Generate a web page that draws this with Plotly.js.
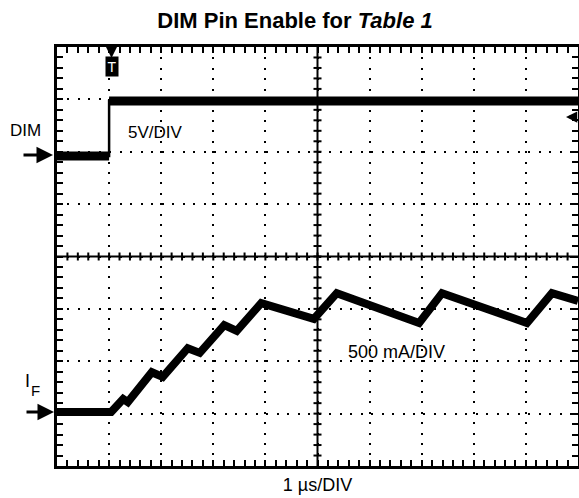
<!DOCTYPE html>
<html><head><meta charset="utf-8">
<script src="https://cdn.plot.ly/plotly-3.0.1.min.js"></script>
<style>html,body{margin:0;padding:0;background:#fff}#chart{width:579px;height:498px}</style>
</head><body><div id="chart"></div>
<script>
// Horizontal: time in divisions (1 µs/DIV); vertical: screen divisions
var dimTime  = [0, 1.0, 1.0, 10];
var dimLevel = [1.92, 1.92, 2.97, 2.97];
var ifTime  = [0, 1.04, 1.27, 1.36, 1.82, 2.03, 2.51, 2.74, 3.21, 3.45, 3.92, 4.93, 5.37, 6.95, 7.39, 9.02, 9.50, 10.0];
var ifLevel = [-2.97, -2.97, -2.72, -2.78, -2.21, -2.30, -1.75, -1.84, -1.31, -1.42, -0.89, -1.19, -0.70, -1.27, -0.70, -1.27, -0.70, -0.85];
var titleText = '<b>DIM Pin Enable for <i>Table 1</i></b>';
var xTitle = '1 µs/DIV';

var W = 579, H = 498, L = 57, R = 1, T = 47, B = 32;
var pw = W - L - R, ph = H - T - B;
var font = 'Liberation Sans, Arial, sans-serif';

// thick noisy band only on the flat segments of the DIM trace
var dimBandX = [], dimBandY = [];
for (var i = 0; i < dimTime.length - 1; i++) {
  if (dimLevel[i] === dimLevel[i + 1]) {
    dimBandX.push(dimTime[i], dimTime[i + 1], null);
    dimBandY.push(dimLevel[i], dimLevel[i + 1], null);
  }
}

var traces = [
  {x: dimTime, y: dimLevel, mode: 'lines', line: {color: '#000', width: 2.5}, hoverinfo: 'skip', showlegend: false},
  {x: dimBandX, y: dimBandY, mode: 'lines', line: {color: '#000', width: 9}, connectgaps: false, hoverinfo: 'skip', showlegend: false},
  {x: ifTime, y: ifLevel, mode: 'lines', line: {color: '#000', width: 8}, hoverinfo: 'skip', showlegend: false}
];

// graticule: centre cross with small ticks every 0.2 division
var ux = 10 / pw, uy = 8 / ph;
var tc = 4;
var shapes = [
  {type: 'line', xref: 'x', yref: 'y', x0: 5, x1: 5, y0: -4, y1: 4, line: {color: '#000', width: 2}},
  {type: 'line', xref: 'x', yref: 'y', x0: 0, x1: 10, y0: 0, y1: 0, line: {color: '#000', width: 2}}
];
function seg(x0, y0, x1, y1) {
  shapes.push({type: 'line', xref: 'x', yref: 'y', x0: x0, y0: y0, x1: x1, y1: y1, line: {color: '#000', width: 2}});
}
for (var k = 1; k < 50; k++) {
  var x = Math.round(k * 2) / 10;
  seg(x, -tc * uy, x, tc * uy);
}
for (var j = 1; j < 40; j++) {
  var y = Math.round(-40 + j * 2) / 10;
  seg(5 - tc * ux, y, 5 + tc * ux, y);
}

function px(v) { return (v - L) / pw; }
function py(v) { return (H - B - v) / ph; }
function txt(t, x, y, size, extra) {
  var a = {text: t, x: px(x), y: py(y), xref: 'paper', yref: 'paper', showarrow: false,
    xanchor: 'center', yanchor: 'middle', font: {family: font, size: size, color: '#000'}};
  for (var key in extra) a[key] = extra[key];
  return a;
}
function arrow(x, y, ax, ay, w, s) {
  return {text: '', x: px(x), y: py(y), xref: 'paper', yref: 'paper', showarrow: true,
    ax: ax, ay: ay, arrowhead: 2, arrowwidth: w, arrowsize: s, arrowcolor: '#000'};
}

var layout = {
  width: W, height: H,
  margin: {l: L, r: R, t: T, b: B, pad: 0},
  paper_bgcolor: '#fff', plot_bgcolor: '#fff',
  title: {text: titleText, x: 295 / W, xanchor: 'center', xref: 'container', y: 1 - 20 / H, yanchor: 'middle', yref: 'container',
    font: {family: font, size: 22, color: '#000'}},
  xaxis: {range: [0, 10], tick0: 0, dtick: 1, showgrid: true, gridcolor: '#000', gridwidth: 2,
    griddash: '2px,' + (pw / 50 - 2).toFixed(2) + 'px', showline: true, mirror: 'ticks', linewidth: 3, linecolor: '#000',
    ticks: 'inside', ticklen: 6, tickcolor: '#000', tickwidth: 2,
    minor: {dtick: 0.2, tick0: 0, ticks: 'inside', ticklen: 6, tickcolor: '#000', tickwidth: 2, showgrid: false},
    showticklabels: false, zeroline: false, fixedrange: true,
    title: {text: xTitle, font: {family: font, size: 18, color: '#000'}, standoff: 11}},
  yaxis: {range: [-4, 4], tick0: -4, dtick: 1, showgrid: true, gridcolor: '#000', gridwidth: 2,
    griddash: '2px,' + (ph / 40 - 2).toFixed(2) + 'px', showline: true, mirror: 'ticks', linewidth: 3, linecolor: '#000',
    ticks: 'inside', ticklen: 6, tickcolor: '#000', tickwidth: 2,
    minor: {dtick: 0.2, tick0: -4, ticks: 'inside', ticklen: 6, tickcolor: '#000', tickwidth: 2, showgrid: false},
    showticklabels: false, zeroline: false, fixedrange: true},
  shapes: shapes,
  annotations: [
    txt('DIM', 25.5, 130.5, 17),
    arrow(53, 155, -31, 0, 3, 1.1),
    txt('5V/DIV', 155.5, 132.5, 17),
    txt('500 mA/DIV', 396, 351.5, 18),
    txt('I', 27.5, 380.5, 18),
    txt('F', 35, 390, 15),
    arrow(54, 412, -29, 0, 3, 1.1),
    arrow(566, 117, 11, 0, 2.5, 0.9),
    arrow(111.5, 58, 0, -9, 2.4, 1.0),
    txt('T', 111.5, 66, 14, {bgcolor: '#000', borderpad: 1.5, font: {family: font, size: 14, color: '#fff'}})
  ],
  showlegend: false
};

Plotly.newPlot('chart', traces, layout, {staticPlot: true, displayModeBar: false});
</script></body></html>
